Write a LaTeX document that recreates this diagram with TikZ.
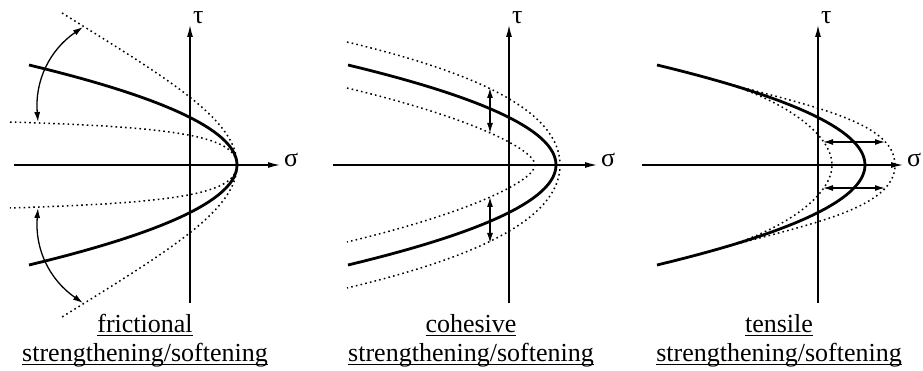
\documentclass[tikz,border=0pt]{standalone}
\usepackage{fontspec}
\setmainfont{Liberation Serif}
\usetikzlibrary{arrows.meta}

\newsavebox\ulbox
\newcommand\undertext[1]{\sbox\ulbox{#1}\rlap{\rule[-3pt]{\wd\ulbox}{1.3pt}}\usebox\ulbox}

\tikzset{
  axis/.style={line width=1.3pt, -{Latex[length=12pt,width=6pt]}},
  envelope/.style={line width=2.8pt},
  shifted/.style={line width=1.5pt, dash pattern=on 1.6pt off 3.2pt},
  change/.style={line width=1.3pt, {Latex[length=10pt,width=6pt]}-{Latex[length=10pt,width=6pt]}},
  lab/.style={anchor=base, inner sep=0pt, font=\fontsize{26}{29}\selectfont},
  greek/.style={anchor=base west, inner sep=0pt, font=\fontsize{26}{29}\selectfont}
}

\begin{document}
\begin{tikzpicture}[x=1pt,y=1pt]
  \useasboundingbox (0,0) rectangle (923,371);

  % --- Axes of the three panels ---
  \foreach \ox/\i/\len in {190/1/90,509/2/88,818/3/85} {
    \draw[axis] (\ox-176,206) -- (\ox+\len,206);
    \node[greek] (sigma\i) at (\ox+\len+4,204) {σ};
    \draw[axis] (\ox,68) -- (\ox,346);
    \node[greek] (tau\i) at (\ox+3,347) {τ};
  }

  % --- Frictional: envelope opens and closes about its apex ---
  \begin{scope}[shift={(190,206)}]
    \draw[shifted] (-128,152) .. controls (-20,85) and (47,45) .. (47,0)
                   .. controls (47,-45) and (-20,-85) .. (-128,-152);
    \draw[shifted] (-180,43) .. controls (-20,38) and (47,30) .. (47,0)
                   .. controls (47,-30) and (-20,-38) .. (-180,-43);
    \draw[envelope] plot[domain=-100:100, samples=61] ({47-0.0208*\x*\x}, \x);
    \coordinate (fwide1) at (-107,138);
    \coordinate (fflat1) at (-152,43);
    \coordinate (fwide2) at (-107,-138);
    \coordinate (fflat2) at (-152,-43);
    \draw[change] (fwide1) to[bend right=30] (fflat1);
    \draw[change] (fflat2) to[bend right=30] (fwide2);
    \node[lab] (fricname) at (-45,-168) {\undertext{frictional}};
    \node[lab] (fricsub) at (-45,-197) {\undertext{strengthening/softening}};
  \end{scope}

  % --- Cohesive: envelope moves up and down ---
  \begin{scope}[shift={(509,206)}]
    \draw[shifted] (-162,123) .. controls (-36,93) and (51,55) .. (51,0)
                   .. controls (51,-55) and (-36,-93) .. (-162,-123);
    \draw[shifted] (-162,77) .. controls (-36,47) and (26,15) .. (26,0)
                   .. controls (26,-15) and (-36,-47) .. (-162,-77);
    \draw[envelope] plot[domain=-100:100, samples=61] ({47-0.0208*\x*\x}, \x);
    \coordinate (cup1) at (-19,77);
    \coordinate (cdown1) at (-19,32);
    \coordinate (cup2) at (-19,-32);
    \coordinate (cdown2) at (-19,-78);
    \draw[change] (cup1) -- (cdown1);
    \draw[change] (cup2) -- (cdown2);
    \node[lab] (cohname) at (-38,-168) {\undertext{cohesive}};
    \node[lab] (cohsub) at (-38,-197) {\undertext{strengthening/softening}};
  \end{scope}

  % --- Tensile: apex moves left and right ---
  \begin{scope}[shift={(818,206)}]
    \draw[shifted] (-103,85) .. controls (-14.5,60) and (77,45) .. (77,0)
                   .. controls (77,-45) and (-14.5,-60) .. (-103,-85);
    \draw[shifted] (-103,85) .. controls (-32,65) and (14,30) .. (14,0)
                   .. controls (14,-30) and (-32,-65) .. (-103,-85);
    \draw[envelope] plot[domain=-100:100, samples=61] ({47-0.0208*\x*\x}, \x);
    \coordinate (tin1) at (5,23);
    \coordinate (tout1) at (67,23);
    \coordinate (tin2) at (5,-23);
    \coordinate (tout2) at (67,-23);
    \draw[change] (tin1) -- (tout1);
    \draw[change] (tin2) -- (tout2);
    \node[lab] (tenname) at (-39,-168) {\undertext{tensile}};
    \node[lab] (tensub) at (-39,-197) {\undertext{strengthening/softening}};
  \end{scope}
\end{tikzpicture}
\end{document}
